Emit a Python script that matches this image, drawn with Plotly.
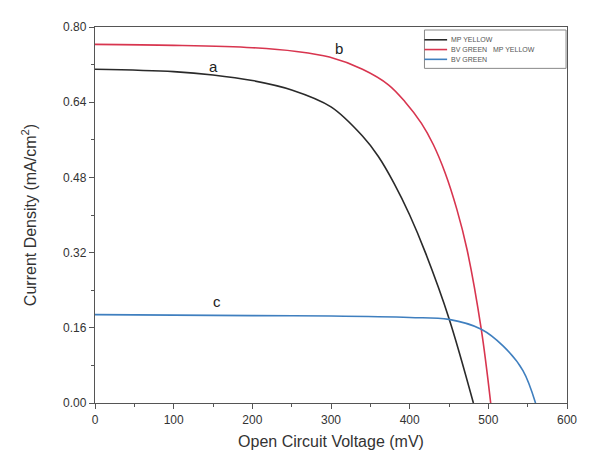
import plotly.graph_objects as go

# Curve a: MP YELLOW
a_v = [0, 100, 150, 200, 250, 300, 340, 360, 380, 400, 420, 450, 481]
a_j = [0.710, 0.705, 0.698, 0.686, 0.666, 0.630, 0.568, 0.525, 0.468, 0.400, 0.320, 0.180, 0.0]

# Curve b: BV GREEN  MP YELLOW
b_v = [0, 100, 200, 256, 298, 340, 373, 394, 415, 430, 445, 460, 473, 491, 503]
b_j = [0.763, 0.761, 0.756, 0.748, 0.736, 0.710, 0.677, 0.641, 0.595, 0.550, 0.490, 0.412, 0.326, 0.157, 0.0]

# Curve c: BV GREEN
c_v = [0, 100, 200, 300, 400, 450, 491, 519, 544, 560]
c_j = [0.188, 0.187, 0.186, 0.185, 0.182, 0.178, 0.157, 0.121, 0.069, 0.0]

names = ["MP YELLOW", "BV GREEN   MP YELLOW", "BV GREEN"]
colors = ["#2a2a2a", "#d8354f", "#3f7fbf"]

labels = ["a", "b", "c"]
label_v = [150, 310, 155]
label_j = [0.716, 0.754, 0.215]

y_ticks = [0.00, 0.16, 0.32, 0.48, 0.64, 0.80]
x_ticks = [0, 100, 200, 300, 400, 500, 600]

fig = go.Figure()
for v, j, n, c in zip([a_v, b_v, c_v], [a_j, b_j, c_j], names, colors):
    fig.add_trace(go.Scatter(x=v, y=j, mode="lines", name=n, showlegend=False,
                             line=dict(color=c, width=1.6, shape="spline", smoothing=1.0)))

for t, v, j in zip(labels, label_v, label_j):
    fig.add_annotation(x=v, y=j, text=t, showarrow=False,
                       font=dict(size=15, color="#222"))

# Manual compact legend (paper coordinates)
leg_x0, leg_x1, leg_y0, leg_y1 = 0.698, 0.998, 0.890, 0.992
fig.add_shape(type="rect", xref="paper", yref="paper", x0=leg_x0, x1=leg_x1,
              y0=leg_y0, y1=leg_y1, line=dict(color="#888", width=1), fillcolor="white")
leg_rows = [0.966, 0.940, 0.914]
for n, c, yy in zip(names, colors, leg_rows):
    fig.add_shape(type="line", xref="paper", yref="paper", x0=leg_x0, x1=0.746,
                  y0=yy, y1=yy, line=dict(color=c, width=1.6))
    fig.add_annotation(xref="paper", yref="paper", x=0.750, y=yy, text=n,
                       showarrow=False, xanchor="left", yanchor="middle",
                       font=dict(size=7, color="#555"))

axis_common = dict(showline=True, linecolor="#555", linewidth=1.3, mirror=True,
                   ticks="outside", ticklen=5, tickcolor="#555",
                   showgrid=False, zeroline=False,
                   tickfont=dict(size=12, color="#333", family="Liberation Sans, Arial"))

fig.update_xaxes(range=[0, 600], tickvals=x_ticks,
                 title=dict(text="Open Circuit Voltage (mV)",
                            font=dict(size=16, color="#333"), standoff=10),
                 minor=dict(ticks="outside", ticklen=3, dtick=50, tickcolor="#555"),
                 **axis_common)
fig.update_yaxes(range=[0, 0.8], tickvals=y_ticks, ticktext=[f"{t:.2f}" for t in y_ticks],
                 title=dict(text="Current Density (mA/cm<sup>2</sup>)",
                            font=dict(size=16, color="#333"), standoff=22),
                 minor=dict(ticks="outside", ticklen=3, dtick=0.08, tickcolor="#555"),
                 **axis_common)

fig.update_layout(
    width=581, height=456,
    margin=dict(l=87, r=14, t=12, b=61),
    paper_bgcolor="white", plot_bgcolor="white",
    font=dict(family="Liberation Sans, Arial", color="#333"),
    showlegend=False,
)

fig.write_html("out.html")
